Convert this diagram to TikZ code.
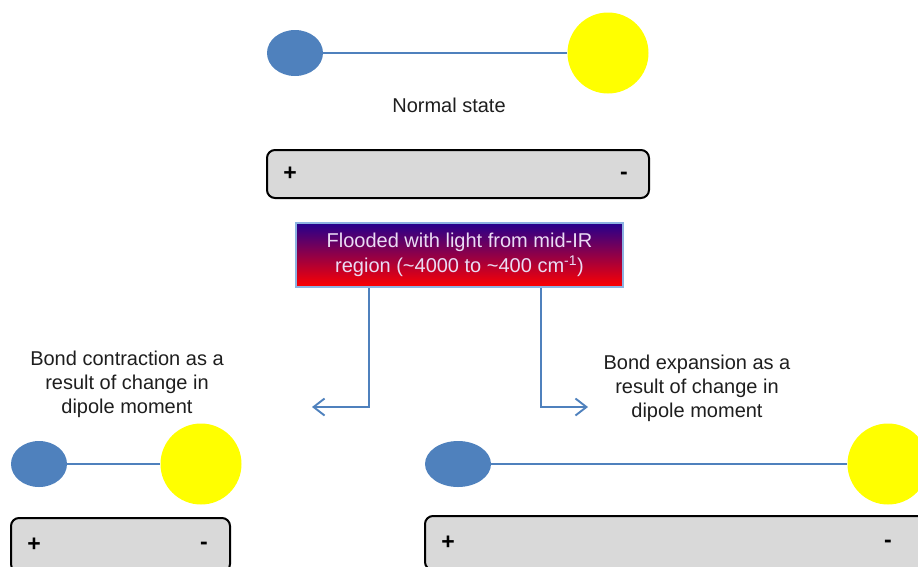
\documentclass[tikz,border=0pt]{standalone}
\usepackage{fontspec}
\setmainfont{Liberation Sans}
\usetikzlibrary{shapes.geometric,arrows.meta}
\definecolor{bondblue}{HTML}{4F81BD}
\definecolor{atomyellow}{HTML}{FFFF00}
\definecolor{boxgray}{HTML}{D9D9D9}
\definecolor{floodtop}{HTML}{24008E}
\definecolor{floodmid}{HTML}{8A0082}
\definecolor{floodbot}{HTML}{FF0000}
\definecolor{floodedge}{HTML}{8DB3E2}
\definecolor{floodtext}{HTML}{EADCF4}
\definecolor{txt}{HTML}{1E1E1E}
\begin{document}
\begin{tikzpicture}[x=1pt,y=-1pt,
  smallatom/.style={ellipse, fill=bondblue, minimum height=46pt, inner sep=0pt},
  bigatom/.style={circle, fill=atomyellow, minimum size=81pt, inner sep=0pt},
  bond/.style={draw=bondblue, line width=2pt},
  chargebox/.style={draw=black, line width=2pt, fill=boxgray, rounded corners=8pt, inner sep=0pt},
  sign/.style={font=\fontsize{23}{26}\selectfont\bfseries, text=black, inner sep=0pt},
  label/.style={font=\fontsize{20}{24}\selectfont, text=txt, align=center, inner sep=0pt},
  link/.style={draw=bondblue, line width=1.9pt, -{Straight Barb[length=11pt,width=17pt,line width=1.9pt]}}
]
\useasboundingbox (0,0) rectangle (918,566);
\clip (0,0) rectangle (918,566);

% top molecule
\node[smallatom, minimum width=56pt] (a1) at (295,53) {};
\node[bigatom] (b1) at (608,53) {};
\draw[bond] (a1) -- (b1);
\node[label] (normal) at (449,105) {Normal state};

% top charge box
\node[chargebox, minimum width=382pt, minimum height=48pt] (box1) at (458,174) {};
\node[sign] (p1) at (290,174) {+};
\node[sign] (m1) at (624,176) {-};

% flooded box
\node[draw=floodedge, line width=1.5pt, top color=floodtop, middle color=floodmid, bottom color=floodbot,
      minimum width=327pt, minimum height=64pt, inner sep=0pt,
      font=\fontsize{20}{25}\selectfont, text=floodtext, align=center] (flood) at (459.5,255)
  {Flooded with light from mid-IR\\region (\textasciitilde4000 to \textasciitilde400 cm\textsuperscript{-1})};

% connectors
\coordinate (lt) at (312,407);
\coordinate (rt) at (588,407);
\draw[link] ([xshift=-90.5pt]flood.south) |- (lt);
\draw[link] ([xshift=81.5pt]flood.south) |- (rt);

% labels
\node[label] (contr) at (127,384) {Bond contraction as a\\result of change in\\dipole moment};
\node[label] (expan) at (697,388) {Bond expansion as a\\result of change in\\dipole moment};

% bottom-left molecule
\node[smallatom, minimum width=56pt] (a2) at (39,464) {};
\node[bigatom] (b2) at (201,464) {};
\draw[bond] (a2) -- (b2);
\node[chargebox, minimum width=219pt, minimum height=54pt] (box2) at (120.5,545) {};
\node[sign] (p2) at (34,545) {+};
\node[sign] (m2) at (204,546) {-};

% bottom-right molecule
\node[smallatom, minimum width=66pt] (a3) at (458,464) {};
\node[bigatom] (b3) at (888,464) {};
\draw[bond] (a3) -- (b3);
\node[chargebox, minimum width=520pt, minimum height=54pt] (box3) at (685,543) {};
\node[sign] (p3) at (448,543) {+};
\node[sign] (m3) at (888,544) {-};
\end{tikzpicture}
\end{document}
